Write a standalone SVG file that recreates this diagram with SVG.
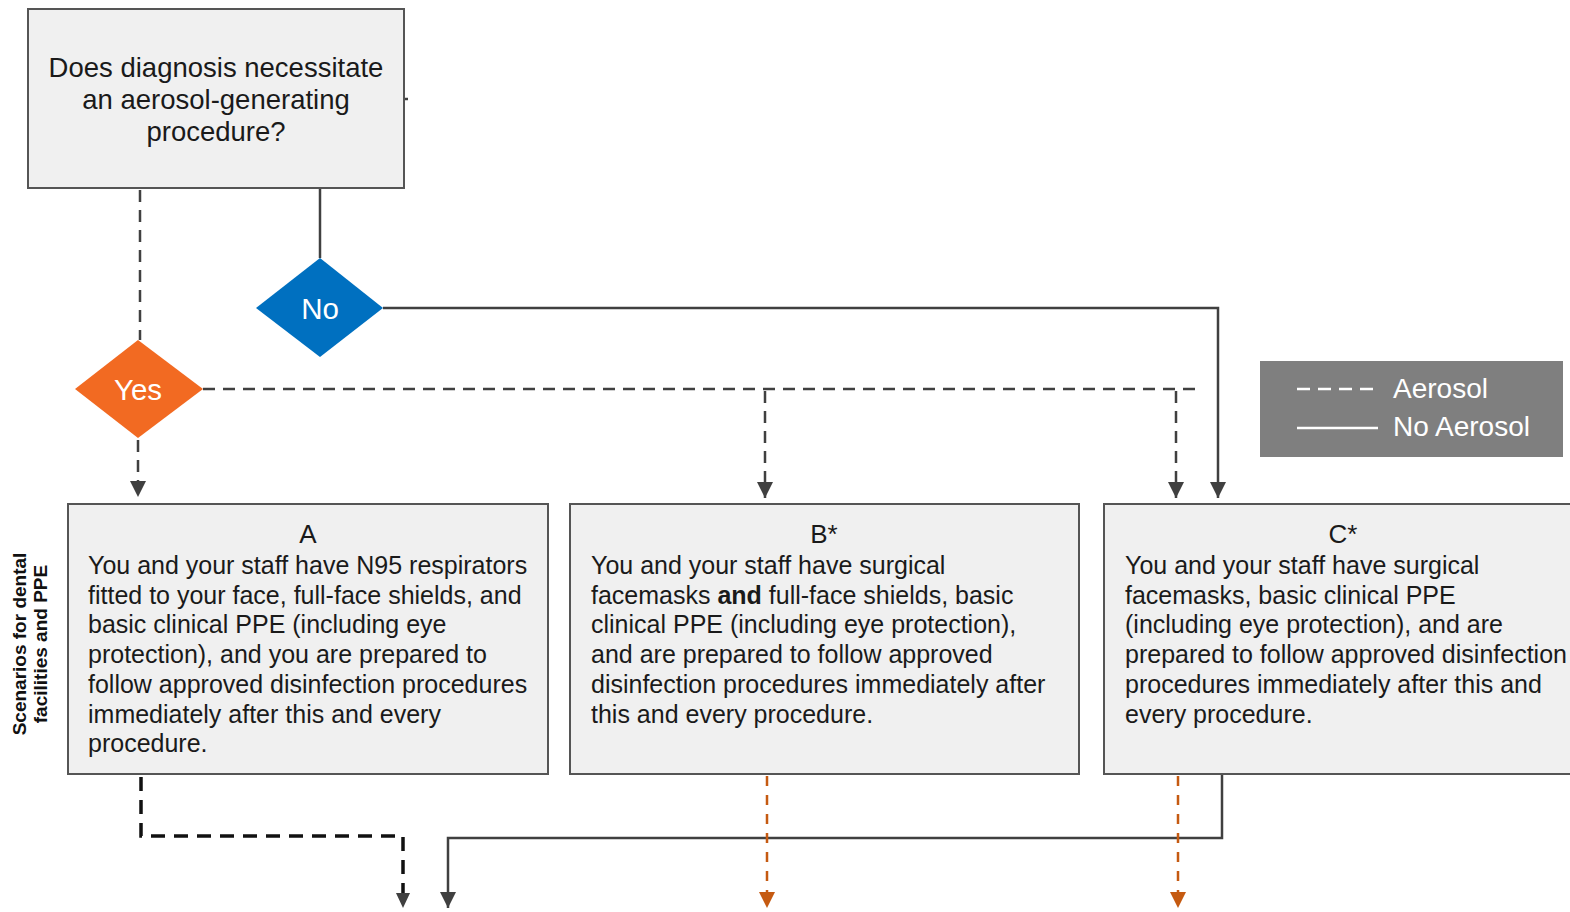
<svg xmlns="http://www.w3.org/2000/svg" width="1570" height="912" viewBox="0 0 1570 912">
<defs>
<marker id="ah" markerUnits="userSpaceOnUse" markerWidth="16" markerHeight="16" refX="14" refY="7" orient="auto" viewBox="0 0 14 14"><path d="M0,0 L14,7 L0,14 Z" fill="#404040"/></marker>
<marker id="ahO" markerUnits="userSpaceOnUse" markerWidth="16" markerHeight="16" refX="14" refY="7" orient="auto" viewBox="0 0 14 14"><path d="M0,0 L14,7 L0,14 Z" fill="#c55a11"/></marker>
</defs>
<style>
.box{fill:#f0f0f0;stroke:#555;stroke-width:2}
.t{font-family:"Liberation Sans",Arial,sans-serif;fill:#1a1a1a}
.q{font-size:27.5px;text-anchor:middle}
.ttl{font-size:26px;text-anchor:middle}
.body{font-size:25px}
.dia{font-family:"Liberation Sans",Arial,sans-serif;fill:#fff;font-size:29.5px;text-anchor:middle}
.solid{fill:none;stroke:#404040;stroke-width:2.5}
.dash{fill:none;stroke:#404040;stroke-width:2.5;stroke-dasharray:12 8}
.dashK{fill:none;stroke:#111;stroke-width:3.5;stroke-dasharray:14 9}
.dashO{fill:none;stroke:#c55a11;stroke-width:2.5;stroke-dasharray:10 9}
.leg{font-family:"Liberation Sans",Arial,sans-serif;fill:#fff;font-size:28px}
.side{font-family:"Liberation Sans",Arial,sans-serif;font-weight:bold;font-size:19px;text-anchor:middle;fill:#111}
</style>
<g id="connectors">
<path class="solid" d="M320,188 V258"/>
<path class="solid" d="M404,99 H408"/>
<path class="dash" d="M140,190 V340"/>
<path class="solid" d="M383,308 H1218 V498" marker-end="url(#ah)"/>
<path class="dash" d="M203,389 H1195"/>
<path class="dash" d="M765,391 V498" marker-end="url(#ah)"/>
<path class="dash" d="M1176,391 V498" marker-end="url(#ah)"/>
<path class="dash" d="M138,440 V497" marker-end="url(#ah)"/>
<path class="dashK" d="M141,777 V836 H403 V894"/>
<path d="M396,893 L410,893 L403,908 Z" fill="#404040"/>
<path class="solid" d="M1222,775 V838 H448 V908" marker-end="url(#ah)"/>
<path class="dashO" d="M767,776 V908" marker-end="url(#ahO)"/>
<path class="dashO" d="M1178,776 V908" marker-end="url(#ahO)"/>
</g>
<g id="question">
<rect class="box" x="28" y="9" width="376" height="179"/>
<text class="t q" x="216" y="77">Does diagnosis necessitate</text>
<text class="t q" x="216" y="109">an aerosol-generating</text>
<text class="t q" x="216" y="141">procedure?</text>
</g>
<g id="no">
<path d="M320,258 L383,308 L320,357 L256,308 Z" fill="#0070c0"/>
<text class="dia" x="320" y="319">No</text>
</g>
<g id="yes">
<path d="M138,340 L203,389 L138,438 L75,389 Z" fill="#f26a22"/>
<text class="dia" x="138" y="400">Yes</text>
</g>
<g id="legend">
<rect x="1260" y="361" width="303" height="96" fill="#7f7f7f"/>
<path d="M1297,389 H1378" stroke="#fff" stroke-width="2.5" stroke-dasharray="13 8"/>
<path d="M1297,428 H1378" stroke="#fff" stroke-width="2.5"/>
<text class="leg" x="1393" y="398">Aerosol</text>
<text class="leg" x="1393" y="436">No Aerosol</text>
</g>
<g id="sidelabel">
<text class="side" transform="translate(26,644) rotate(-90)"><tspan x="0" y="0">Scenarios for dental</tspan><tspan x="0" y="21">facilities and PPE</tspan></text>
</g>
<g id="boxA">
<rect class="box" x="68" y="504" width="480" height="270"/>
<text class="t ttl" x="308" y="543">A</text>
<text class="t body" x="88" y="574">You and your staff have N95 respirators</text>
<text class="t body" x="88" y="604">fitted to your face, full-face shields, and</text>
<text class="t body" x="88" y="633">basic clinical PPE (including eye</text>
<text class="t body" x="88" y="663">protection), and you are prepared to</text>
<text class="t body" x="88" y="693">follow approved disinfection procedures</text>
<text class="t body" x="88" y="723">immediately after this and every</text>
<text class="t body" x="88" y="752">procedure.</text>
</g>
<g id="boxB">
<rect class="box" x="570" y="504" width="509" height="270"/>
<text class="t ttl" x="824" y="543">B*</text>
<text class="t body" x="591" y="574">You and your staff have surgical</text>
<text class="t body" x="591" y="604">facemasks <tspan font-weight="bold">and</tspan> full-face shields, basic</text>
<text class="t body" x="591" y="633">clinical PPE (including eye protection),</text>
<text class="t body" x="591" y="663">and are prepared to follow approved</text>
<text class="t body" x="591" y="693">disinfection procedures immediately after</text>
<text class="t body" x="591" y="723">this and every procedure.</text>
</g>
<g id="boxC">
<rect class="box" x="1104" y="504" width="480" height="270"/>
<text class="t ttl" x="1343" y="543">C*</text>
<text class="t body" x="1125" y="574">You and your staff have surgical</text>
<text class="t body" x="1125" y="604">facemasks, basic clinical PPE</text>
<text class="t body" x="1125" y="633">(including eye protection), and are</text>
<text class="t body" x="1125" y="663">prepared to follow approved disinfection</text>
<text class="t body" x="1125" y="693">procedures immediately after this and</text>
<text class="t body" x="1125" y="723">every procedure.</text>
</g>
</svg>
